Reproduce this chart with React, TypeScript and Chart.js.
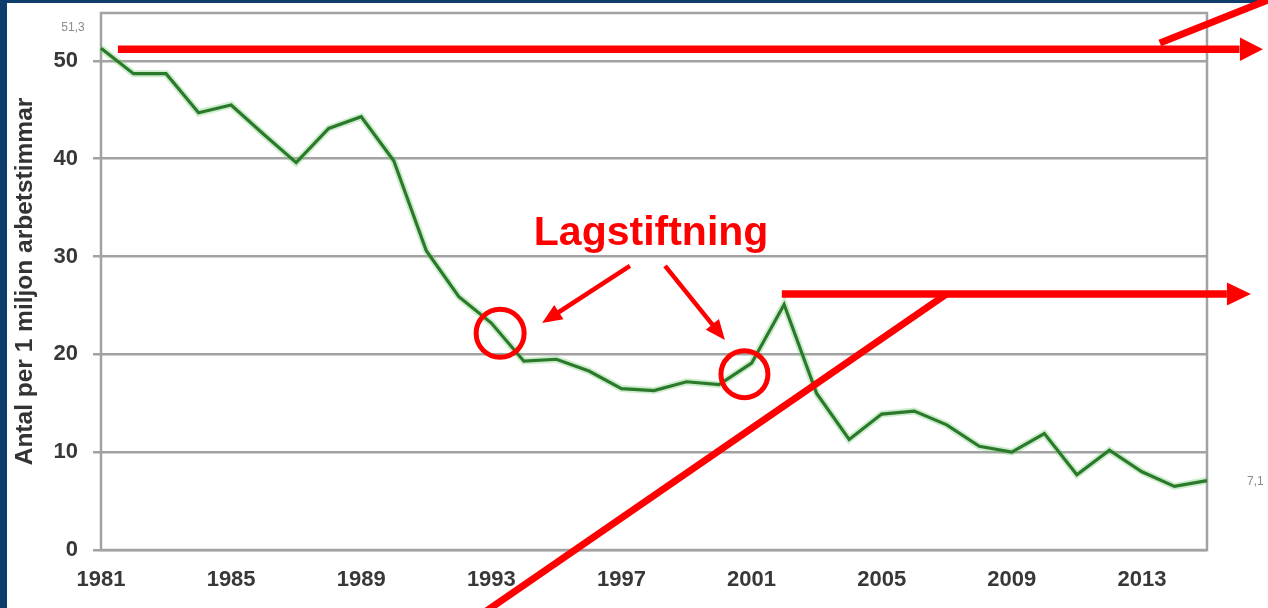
import React, { useEffect, useRef } from "react";
import { Chart, registerables } from "chart.js";

Chart.register(...registerables);

// ---- Data ----
const years: string[] = [
  "1981", "1982", "1983", "1984", "1985", "1986", "1987", "1988", "1989", "1990",
  "1991", "1992", "1993", "1994", "1995", "1996", "1997", "1998", "1999", "2000",
  "2001", "2002", "2003", "2004", "2005", "2006", "2007", "2008", "2009", "2010",
  "2011", "2012", "2013", "2014", "2015",
];
const accidents: number[] = [
  51.3, 48.7, 48.7, 44.7, 45.5, 42.5, 39.6, 43.1, 44.3, 39.8,
  30.6, 25.9, 23.2, 19.3, 19.5, 18.3, 16.5, 16.3, 17.2, 16.9,
  19.1, 25.1, 16.0, 11.3, 13.9, 14.2, 12.8, 10.6, 10.0, 11.9,
  7.7, 10.2, 8.0, 6.5, 7.1,
];
const yTickValues: number[] = [0, 10, 20, 30, 40, 50];
const xTickYears: string[] = ["1981", "1985", "1989", "1993", "1997", "2001", "2005", "2009", "2013"];
const firstValueLabel = "51,3";
const lastValueLabel = "7,1";
const yAxisTitle = "Antal per 1 miljon arbetstimmar";
const noteText = "Lagstiftning";

const FONT = '"Liberation Sans", Arial, Helvetica, sans-serif';
const RED = "#ff0000";
const GRID = "#a2a2a2";

function line(ctx: CanvasRenderingContext2D, x1: number, y1: number, x2: number, y2: number, w: number) {
  ctx.beginPath();
  ctx.lineWidth = w;
  ctx.lineCap = "butt";
  ctx.moveTo(x1, y1);
  ctx.lineTo(x2, y2);
  ctx.stroke();
}

function head(ctx: CanvasRenderingContext2D, tx: number, ty: number, fx: number, fy: number, len: number, half: number) {
  const a = Math.atan2(ty - fy, tx - fx);
  const bx = tx - len * Math.cos(a);
  const by = ty - len * Math.sin(a);
  const px = -Math.sin(a) * half;
  const py = Math.cos(a) * half;
  ctx.beginPath();
  ctx.moveTo(tx, ty);
  ctx.lineTo(bx + px, by + py);
  ctx.lineTo(bx - px, by - py);
  ctx.closePath();
  ctx.fill();
}

const overlay = {
  id: "overlay",
  beforeDraw(chart: any) {
    const { ctx, width, height } = chart;
    ctx.save();
    ctx.fillStyle = "#0e3d6b";
    ctx.fillRect(0, 0, width, height);
    ctx.fillStyle = "#ffffff";
    ctx.fillRect(7, 3, width - 7, height - 3);
    ctx.restore();
  },
  beforeDatasetsDraw(chart: any) {
    const { ctx, chartArea } = chart;
    ctx.save();
    ctx.strokeStyle = GRID;
    ctx.lineWidth = 2.5;
    ctx.strokeRect(chartArea.left, chartArea.top, chartArea.right - chartArea.left, chartArea.bottom - chartArea.top);
    ctx.restore();
  },
  afterDraw(chart: any) {
    const { ctx, chartArea } = chart;
    const xs = chart.scales.x;
    const ys = chart.scales.y;
    const x0 = xs.getPixelForValue(0);
    const step = xs.getPixelForValue(1) - x0;
    const X = (yr: number) => x0 + (yr - 1981) * step;
    const Y = (v: number) => ys.getPixelForValue(v);

    ctx.save();
    // small value labels
    ctx.fillStyle = "#8a8a8a";
    ctx.font = `12px ${FONT}`;
    ctx.textAlign = "center";
    ctx.textBaseline = "middle";
    ctx.fillText(firstValueLabel, X(1981) - 28, Y(accidents[0]) - 21);
    ctx.textAlign = "left";
    ctx.fillText(lastValueLabel, chartArea.right + 40, Y(accidents[accidents.length - 1]) + 1);

    ctx.strokeStyle = RED;
    ctx.fillStyle = RED;
    // top arrow
    line(ctx, X(1981.52), Y(51.2), X(2016.0), Y(51.2), 7.5);
    head(ctx, X(2016.72), Y(51.2), X(2016.0), Y(51.2), 23, 11.7);
    line(ctx, X(2013.55), Y(51.84), X(2017.3), Y(56.8), 7);
    // second arrow
    line(ctx, X(2001.93), Y(26.18), X(2015.61), Y(26.18), 7.5);
    head(ctx, X(2016.35), Y(26.18), X(2015.61), Y(26.18), 24, 11.5);
    line(ctx, X(2007.0), Y(26.18), X(1992.6), Y(-6.8), 7);

    // text
    ctx.font = `bold 41px ${FONT}`;
    ctx.textAlign = "center";
    ctx.textBaseline = "alphabetic";
    ctx.fillText(noteText, X(1997.91), Y(31.19));

    // small arrows
    const a1t = [X(1997.26), Y(29.04)], a1h = [X(1994.56), Y(23.21)];
    const a2t = [X(1998.34), Y(29.04)], a2h = [X(2000.18), Y(21.47)];
    const shorten = (t: number[], h: number[], d: number) => {
      const ang = Math.atan2(h[1] - t[1], h[0] - t[0]);
      return [h[0] - d * Math.cos(ang), h[1] - d * Math.sin(ang)];
    };
    let e = shorten(a1t, a1h, 16);
    line(ctx, a1t[0], a1t[1], e[0], e[1], 4.5);
    head(ctx, a1h[0], a1h[1], a1t[0], a1t[1], 20, 8.5);
    e = shorten(a2t, a2h, 16);
    line(ctx, a2t[0], a2t[1], e[0], e[1], 4.5);
    head(ctx, a2h[0], a2h[1], a2t[0], a2t[1], 20, 8.5);

    // circles
    ctx.lineWidth = 5;
    ctx.beginPath();
    ctx.arc(X(1993.27), Y(22.16), 24, 0, Math.PI * 2);
    ctx.stroke();
    ctx.beginPath();
    ctx.arc(X(2000.78), Y(17.97), 23.5, 0, Math.PI * 2);
    ctx.stroke();
    ctx.restore();
  },
};

export default function App() {
  const ref = useRef<HTMLCanvasElement | null>(null);

  useEffect(() => {
    if (!ref.current) return;
    const chart = new Chart(ref.current, {
      type: "line",
      data: {
        labels: years,
        datasets: [
          {
            data: accidents,
            borderColor: "#2b7a2b",
            borderWidth: 3.2,
            pointRadius: 0,
            tension: 0,
            fill: false,
            order: 0,
          },
          {
            data: accidents,
            borderColor: "rgba(110,200,110,0.35)",
            borderWidth: 7,
            pointRadius: 0,
            tension: 0,
            fill: false,
            order: 1,
          },
        ],
      },
      options: {
        animation: false,
        responsive: false,
        devicePixelRatio: 1,
        layout: { padding: { left: 7, top: 13, right: 61, bottom: 0 } },
        plugins: {
          legend: { display: false },
          tooltip: { enabled: false },
        },
        scales: {
          x: {
            type: "category",
            offset: false,
            grid: { display: false, drawTicks: false },
            border: { display: false },
            ticks: {
              autoSkip: false,
              maxRotation: 0,
              minRotation: 0,
              padding: 17,
              color: "#383838",
              font: { family: FONT, size: 22, weight: "bold" },
              callback: (_v: any, i: number) => (xTickYears.includes(years[i]) ? years[i] : ""),
            },
            afterFit: (s: any) => {
              s.height = 58;
              s.paddingLeft = 0;
              s.paddingRight = 0;
            },
          },
          y: {
            min: 0,
            max: 54.9,
            afterBuildTicks: (s: any) => {
              s.ticks = yTickValues.map((v) => ({ value: v }));
            },
            grid: { color: GRID, lineWidth: 2.5, drawTicks: true, tickLength: 8, tickColor: GRID },
            border: { display: false },
            ticks: {
              padding: 15,
              color: "#383838",
              font: { family: FONT, size: 22, weight: "bold" },
            },
            title: {
              display: true,
              text: yAxisTitle,
              color: "#333333",
              font: { family: FONT, size: 24.5, weight: "bold" },
              padding: { top: 4, bottom: 0 },
            },
            afterFit: (s: any) => {
              s.width = 94;
              s.paddingTop = 0;
              s.paddingBottom = 0;
            },
          },
        },
      },
      plugins: [overlay],
    });
    return () => chart.destroy();
  }, []);

  return (
    <div style={{ position: "fixed", left: 0, top: 0, width: 1268, height: 608, overflow: "hidden" }}>
      <canvas ref={ref} width={1268} height={608} style={{ display: "block" }} />
    </div>
  );
}
